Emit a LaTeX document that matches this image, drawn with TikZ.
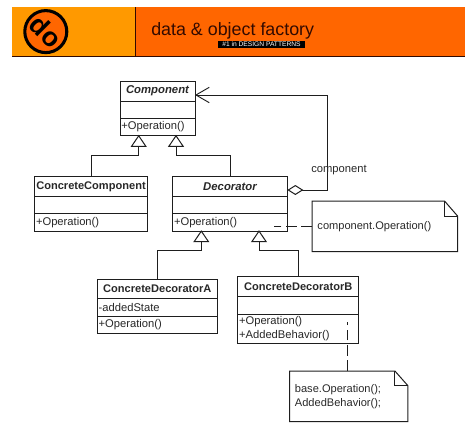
\documentclass[tikz,border=0pt]{standalone}
\usepackage{fontspec}
\setmainfont{Liberation Sans}
\usetikzlibrary{arrows.meta,positioning,calc}
\definecolor{DofLeft}{RGB}{255,153,0}
\definecolor{DofRight}{RGB}{255,102,0}
\definecolor{DofDark}{RGB}{50,10,0}
\definecolor{UmlLine}{RGB}{30,30,30}
\definecolor{UmlText}{RGB}{40,40,40}
\tikzset{
  dof/band/.style={draw=none, inner sep=0pt, outer sep=0pt},
  dof/title/.style={font=\fontsize{13.4}{16}\selectfont, text=DofDark, inner sep=0pt},
  dof/badge/.style={fill=black, text=white, font=\fontsize{5}{5}\selectfont, inner sep=0pt, minimum width=65pt, minimum height=5.6pt},
  dof/logo/.style={circle, draw=black, line width=2.3pt, fill=DofRight, minimum size=31.5pt, inner sep=0pt, text=black, font=\fontsize{20}{20}\selectfont\bfseries},
  uml/part/.style={
    draw=UmlLine,
    line width=0.75pt,
    fill=white,
    outer sep=0pt,
    inner xsep=1pt,
    inner ysep=0pt,
    text=UmlText,
    font=\fontsize{8.4}{10}\selectfont
  },
  uml/head/.style={uml/part, align=center, font=\fontsize{8.3}{10}\selectfont\bfseries},
  uml/abstract/.style={uml/head, font=\fontsize{8.5}{10}\selectfont\bfseries\itshape},
  uml/body/.style={uml/part, align=left},
  uml/note/.style={inner sep=0pt, align=left, text=UmlText, font=\fontsize{8.3}{10.4}\selectfont},
  uml/inherit/.style={-{Triangle[open,length=9pt,width=12pt,fill=white]}, line width=0.75pt, draw=UmlLine, shorten >=-0.6pt},
  uml/assoc/.style={{Diamond[open,length=12pt,width=7.5pt,fill=white]}-{Straight Barb[length=10pt,width=10pt,angle'=60,line width=0.7pt]}, line width=0.75pt, draw=UmlLine},
  uml/dash/.style={line width=0.75pt, draw=UmlLine, dash pattern=on 8pt off 3.5pt},
  uml/label/.style={inner sep=0pt, text=UmlText, font=\fontsize{8.4}{10}\selectfont}
}

\begin{document}
\begin{tikzpicture}[x=0.75pt,y=-0.75pt]
  \useasboundingbox (0,0) rectangle (473,437);
  % header
  \node[dof/band,fill=DofLeft,minimum width=92.25pt,minimum height=36.75pt] (bandleft) at (73.75,31.5) {};
  \node[dof/band,fill=DofRight,minimum width=247.5pt,minimum height=36.75pt,right=0pt of bandleft] (bandright) {};
  \draw[DofDark,line width=0.7pt] (bandleft.south west) -- (bandright.south east);
  \draw[DofDark,line width=0.4pt] (bandleft.north east) -- (bandleft.south east);
  \node[dof/logo,rotate=-45] (logo) at (45.8,31.6) {do};
  \node[dof/title,anchor=west] (title) at (151,31) {data \& object factory};
  \node[dof/badge] (badge) at (261.5,44.5) {\#1 in DESIGN PATTERNS};

  % classes
  \node[uml/abstract,minimum width=56.25pt,minimum height=15pt] (comphead) at (157.5,91) {Component};
  \node[uml/body,minimum width=56.25pt,minimum height=13pt,below=0pt of comphead] (compattr) {};
  \node[uml/body,minimum width=56.25pt,minimum height=13pt,below=0pt of compattr,text width=54.25pt] (compop) {+Operation()};

  \node[uml/head,minimum width=84.5pt,minimum height=14.75pt] (conchead) at (91,186.5) {ConcreteComponent};
  \node[uml/body,minimum width=84.5pt,minimum height=13pt,below=0pt of conchead] (concattr) {};
  \node[uml/body,minimum width=84.5pt,minimum height=13pt,below=0pt of concattr,text width=82.5pt] (concop) {+Operation()};

  \node[uml/abstract,minimum width=86pt,minimum height=14.75pt] (dechead) at (230,186.5) {Decorator};
  \node[uml/body,minimum width=86pt,minimum height=13pt,below=0pt of dechead] (decattr) {};
  \node[uml/body,minimum width=86pt,minimum height=13pt,below=0pt of decattr,text width=84pt] (decop) {+Operation()};

  \node[uml/head,minimum width=90pt,minimum height=14.75pt] (cdahead) at (157.3,289) {ConcreteDecoratorA};
  \node[uml/body,minimum width=90pt,minimum height=13pt,below=0pt of cdahead,text width=88pt] (cdaattr) {-addedState};
  \node[uml/body,minimum width=90pt,minimum height=13.25pt,below=0pt of cdaattr,text width=88pt] (cdaop) {+Operation()};

  \node[uml/head,minimum width=90.75pt,minimum height=15.25pt] (cdbhead) at (298.2,286.2) {ConcreteDecoratorB};
  \node[uml/body,minimum width=90.75pt,minimum height=13.25pt,below=0pt of cdbhead] (cdbattr) {};
  \node[uml/body,minimum width=90.75pt,minimum height=22pt,below=0pt of cdbattr,text width=88.75pt] (cdbop) {+Operation()\\+AddedBehavior()};

  % notes
  \node[uml/note,minimum width=108.75pt,minimum height=37.5pt,text width=101pt] (noteop) at (384.8,226.3) {component.Operation()};
  \draw[uml/part,fill=none] (noteop.north west) -- ($(noteop.north east)+(-13,0)$) -- ($(noteop.north east)+(0,15)$) -- (noteop.south east) -- (noteop.south west) -- cycle;
  \draw[uml/part,fill=none] ($(noteop.north east)+(-13,0)$) |- ($(noteop.north east)+(0,15)$);
  \node[uml/note,minimum width=88.3pt,minimum height=37.5pt,text width=80.8pt] (notebase) at (348.8,396.3) {base.Operation();\\AddedBehavior();};
  \draw[uml/part,fill=none] (notebase.north west) -- ($(notebase.north east)+(-13,0)$) -- ($(notebase.north east)+(0,14.7)$) -- (notebase.south east) -- (notebase.south west) -- cycle;
  \draw[uml/part,fill=none] ($(notebase.north east)+(-13,0)$) |- ($(notebase.north east)+(0,14.7)$);

  % connectors
  \coordinate (bendcomp1) at (138.7,155);
  \coordinate (bendcomp2) at (176,155);
  \coordinate (benddec1) at (201.3,250);
  \coordinate (benddec2) at (259,250);
  \draw[uml/inherit] (conchead.north) |- (bendcomp1) -- (bendcomp1 |- compop.south);
  \draw[uml/inherit] (dechead.north) |- (bendcomp2) -- (bendcomp2 |- compop.south);
  \draw[uml/inherit] (cdahead.north) |- (benddec1) -- (benddec1 |- decop.south);
  \draw[uml/inherit] (cdbhead.north) |- (benddec2) -- (benddec2 |- decop.south);

  \coordinate (assocend) at (327.3,95);
  \draw[uml/assoc] (dechead.east |- 0,190) -| (assocend) -- (assocend -| comphead.east);
  \node[uml/label] (assoclabel) at (339,170) {component};

  \coordinate (dashop) at (274.3,226);
  \coordinate (dashbase) at (347.3,321.7);
  \draw[uml/dash] (noteop.west |- dashop) -- (dashop);
  \draw[uml/dash] (dashbase |- notebase.north) -- (dashbase);
\end{tikzpicture}
\end{document}
